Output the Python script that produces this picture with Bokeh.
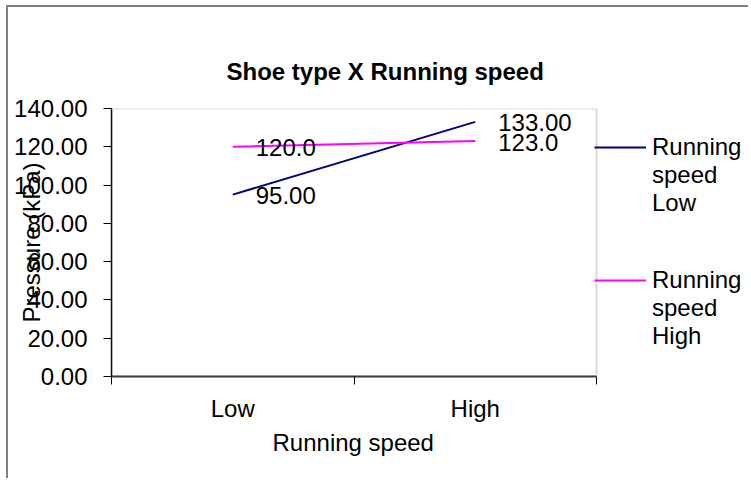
from bokeh.plotting import figure
from bokeh.models import (ColumnDataSource, Range1d, FixedTicker, NumeralTickFormatter,
                          Legend, LegendItem, BoxAnnotation, Title)
from bokeh.core.properties import value
from bokeh.embed import file_html
from bokeh.resources import INLINE

# ---- data ----
categories = ["Low", "High"]
series_names = ["Running\nspeed\nLow", "Running\nspeed\nHigh"]
speed_low = [95.00, 133.00]
speed_high = [120.00, 123.00]
label_formats = ["{:.2f}", "{:.1f}"]
colors = ["#000080", "#FF00FF"]
y_ticks = [0, 20, 40, 60, 80, 100, 120, 140]
title_text = "Shoe type X Running speed"
x_title = "Running speed"
y_title = "Pressure (kPa)"

FONT = "Liberation Sans"
FS = "24px"

# layout (pixels)
W, H = 742, 473
LEFT, TOP, BOTTOM = 103, 101, 104
PLOT_W = 485                      # width of the bordered plot area
FRAME_W = W - LEFT                # frame runs under the legend too
LEGEND_Y = [159, 26]              # legend block offsets from the frame bottom

n = len(categories)
x_pos = [i + 0.5 for i in range(n)]
boundaries = list(range(n + 1))
x_end = n * FRAME_W / PLOT_W

p = figure(width=W, height=H, output_backend="svg", toolbar_location=None,
           x_range=Range1d(0, x_end), y_range=Range1d(y_ticks[0], y_ticks[-1]),
           min_border_left=LEFT, min_border_right=0, min_border_top=TOP, min_border_bottom=BOTTOM,
           title=title_text)
p.styles = {"border-left": "2px solid #808080", "border-top": "2px solid #808080",
            "margin-left": "6px", "margin-top": "5px"}
p.background_fill_color = "white"
p.border_fill_color = "white"
p.outline_line_color = None
p.xgrid.visible = False
p.ygrid.visible = False

p.title.text_font = FONT
p.title.text_font_size = "24px"
p.title.text_font_style = "bold"
p.title.align = "left"
p.title.offset = 115
p.title.standoff = 48
p.title.text_color = "black"

# plot-area border
p.add_layout(BoxAnnotation(left=0, right=n, bottom=y_ticks[0], top=y_ticks[-1],
                           fill_alpha=0, line_color="#808080", line_width=2))

renderers = []
for vals, fmt, col in zip([speed_low, speed_high], label_formats, colors):
    src = ColumnDataSource(dict(x=x_pos, y=vals, label=[fmt.format(v) for v in vals]))
    r = p.line("x", "y", source=src, line_color=col, line_width=2)
    renderers.append(r)
    p.text("x", "y", text="label", source=src, x_offset=23, y_offset=1,
           text_align="left", text_baseline="middle", text_color="black",
           text_font=value(FONT), text_font_size=FS)

# y axis
ya = p.yaxis[0]
ya.ticker = FixedTicker(ticks=y_ticks, minor_ticks=[])
ya.formatter = NumeralTickFormatter(format="0.00")
ya.major_tick_out = 8
ya.major_tick_in = 0
ya.minor_tick_out = 0
ya.minor_tick_in = 0
ya.major_label_standoff = 16
ya.major_label_text_font = FONT
ya.major_label_text_font_size = FS
ya.major_label_text_color = "black"
ya.axis_line_color = "black"
ya.axis_line_width = 1.5
ya.major_tick_line_color = "black"
ya.axis_label = y_title
ya.axis_label_text_font = FONT
ya.axis_label_text_font_size = FS
ya.axis_label_text_font_style = "normal"
ya.axis_label_text_color = "black"
ya.axis_label_standoff = -34

# x axis
xa = p.xaxis[0]
xa.bounds = (0, n)
xa.ticker = FixedTicker(ticks=x_pos, minor_ticks=boundaries)
xa.major_label_overrides = {x: c for x, c in zip(x_pos, categories)}
xa.major_tick_out = 0
xa.major_tick_in = 0
xa.minor_tick_out = 8
xa.minor_tick_in = 0
xa.minor_tick_line_color = "black"
xa.major_label_standoff = 10
xa.major_label_text_font = FONT
xa.major_label_text_font_size = FS
xa.major_label_text_color = "black"
xa.axis_line_color = "#303030"
xa.axis_line_width = 2

# x-axis title, centred under the bordered plot area
p.add_layout(Title(text=x_title, align="left", offset=161, standoff=5,
                   text_font=FONT, text_font_size=FS, text_font_style="normal",
                   text_color="black"), "below")

# legend entries: leading blank lines so the key line sits level with the first text line
for s, r, ly in zip(series_names, renderers, LEGEND_Y):
    lg = Legend(items=[LegendItem(label=" \n \n" + s, renderers=[r])],
                location=(PLOT_W - 2, ly), border_line_alpha=0, background_fill_alpha=0,
                glyph_width=52, glyph_height=20, label_standoff=6,
                padding=0, margin=0, label_text_font=FONT, label_text_font_size=FS,
                label_text_line_height=1.15, label_text_color="black")
    p.add_layout(lg)

open("out.html", "w").write(file_html(p, INLINE))
